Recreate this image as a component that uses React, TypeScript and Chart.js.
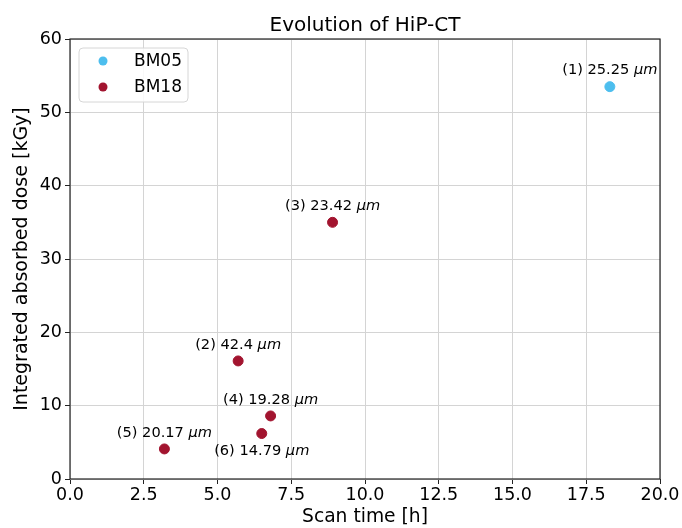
import React, { useEffect, useRef } from "react";
import { Chart, registerables } from "chart.js";

Chart.register(...registerables);

const titleText = "Evolution of HiP-CT";
const xTitle = "Scan time [h]";
const yTitle = "Integrated absorbed dose [kGy]";

const seriesNames = ["BM05", "BM18"];
const seriesColors = ["#4DBEEE", "#A2142F"];

const bm05Time = [18.3];
const bm05Dose = [53.5];
const bm05Labels = ["(1) 25.25"];

const bm18Time = [5.7, 8.9, 6.8, 3.2, 6.5];
const bm18Dose = [16.1, 35.0, 8.6, 4.1, 6.2];
const bm18Labels = ["(2) 42.4", "(3) 23.42", "(4) 19.28", "(5) 20.17", "(6) 14.79"];

const labelUnit = "μm";
const FONT = "'DejaVu Sans', sans-serif";

const decorPlugin = {
  id: "decor",
  afterDraw(chart: any) {
    const { ctx, chartArea } = chart;
    const { left, right, top, bottom } = chartArea;
    ctx.save();
    // frame
    ctx.strokeStyle = "#222";
    ctx.lineWidth = 1.2;
    ctx.strokeRect(left, top, right - left, bottom - top);
    // title
    ctx.fillStyle = "#000";
    ctx.font = `20px ${FONT}`;
    ctx.textAlign = "center";
    ctx.textBaseline = "alphabetic";
    ctx.fillText(titleText, (left + right) / 2, top - 8);
    // annotations
    chart.data.datasets.forEach((ds: any, di: number) => {
      const meta = chart.getDatasetMeta(di);
      meta.data.forEach((pt: any, i: number) => {
        const lbl = ds.pointLabels[i];
        const below = lbl.startsWith("(6)");
        const main = lbl + " ";
        ctx.font = `14.6px ${FONT}`;
        const w1 = ctx.measureText(main).width;
        ctx.font = `italic 14.6px ${FONT}`;
        const w2 = ctx.measureText(labelUnit).width;
        const total = w1 + w2;
        const x0 = pt.x - total / 2;
        const y = below ? pt.y + 18 : pt.y - 16;
        ctx.textBaseline = "middle";
        ctx.textAlign = "left";
        ctx.fillStyle = "#000";
        ctx.font = `14.6px ${FONT}`;
        ctx.fillText(main, x0, y);
        ctx.font = `italic 14.6px ${FONT}`;
        ctx.fillText(labelUnit, x0 + w1, y);
      });
    });
    // legend
    const lx = left + 9, ly = top + 9, lw = 109, lh = 54;
    ctx.beginPath();
    const r = 4;
    ctx.moveTo(lx + r, ly);
    ctx.arcTo(lx + lw, ly, lx + lw, ly + lh, r);
    ctx.arcTo(lx + lw, ly + lh, lx, ly + lh, r);
    ctx.arcTo(lx, ly + lh, lx, ly, r);
    ctx.arcTo(lx, ly, lx + lw, ly, r);
    ctx.closePath();
    ctx.fillStyle = "rgba(255,255,255,0.85)";
    ctx.fill();
    ctx.strokeStyle = "#d6d6d6";
    ctx.lineWidth = 1;
    ctx.stroke();
    seriesNames.forEach((name, i) => {
      const cy = ly + 13 + i * 26;
      ctx.beginPath();
      ctx.arc(lx + 24, cy, 4.5, 0, Math.PI * 2);
      ctx.fillStyle = seriesColors[i];
      ctx.fill();
      ctx.fillStyle = "#000";
      ctx.font = `17px ${FONT}`;
      ctx.textAlign = "left";
      ctx.textBaseline = "middle";
      ctx.fillText(name, lx + 55, cy + 1);
    });
    ctx.restore();
  },
};

export default function App() {
  const ref = useRef<HTMLCanvasElement>(null);
  useEffect(() => {
    document.body.style.margin = "0";
    const chart = new Chart(ref.current!, {
      type: "scatter",
      data: {
        datasets: [
          {
            label: seriesNames[0],
            data: bm05Time.map((x, i) => ({ x, y: bm05Dose[i] })),
            backgroundColor: seriesColors[0],
            borderColor: seriesColors[0],
            pointRadius: 5,
            pointLabels: bm05Labels,
          } as any,
          {
            label: seriesNames[1],
            data: bm18Time.map((x, i) => ({ x, y: bm18Dose[i] })),
            backgroundColor: seriesColors[1],
            borderColor: seriesColors[1],
            pointRadius: 5,
            pointLabels: bm18Labels,
          } as any,
        ],
      },
      options: {
        responsive: false,
        animation: false,
        layout: { padding: { top: 39, right: 22, left: 0, bottom: 0 } },
        plugins: { legend: { display: false }, tooltip: { enabled: false }, title: { display: false } },
        scales: {
          x: {
            type: "linear",
            min: 0,
            max: 20,
            afterFit: (s: any) => { s.height = 49; },
            ticks: {
              stepSize: 2.5,
              color: "#000",
              font: { family: FONT, size: 17.5 },
              padding: 1,
              maxRotation: 0,
              callback: (v: any) => Number(v).toFixed(1),
            },
            grid: { color: "#d4d4d4", tickColor: "#222", tickLength: 5, lineWidth: 1 },
            border: { display: false },
            title: { display: true, text: xTitle, color: "#000", font: { family: FONT, size: 18.7 }, padding: { top: 0, bottom: 0 } },
          },
          y: {
            type: "linear",
            min: 0,
            max: 60,
            afterFit: (s: any) => { s.width = 70; },
            ticks: {
              stepSize: 10,
              color: "#000",
              font: { family: FONT, size: 17.5 },
              padding: 3,
            },
            grid: { color: "#d4d4d4", tickColor: "#222", tickLength: 5, lineWidth: 1 },
            border: { display: false },
            title: { display: true, text: yTitle, color: "#000", font: { family: FONT, size: 19 }, padding: { top: 11, bottom: 0 } },
          },
        },
      },
      plugins: [decorPlugin],
    } as any);
    return () => chart.destroy();
  }, []);
  return <canvas ref={ref} width={682} height={528} style={{ display: "block" }} />;
}
